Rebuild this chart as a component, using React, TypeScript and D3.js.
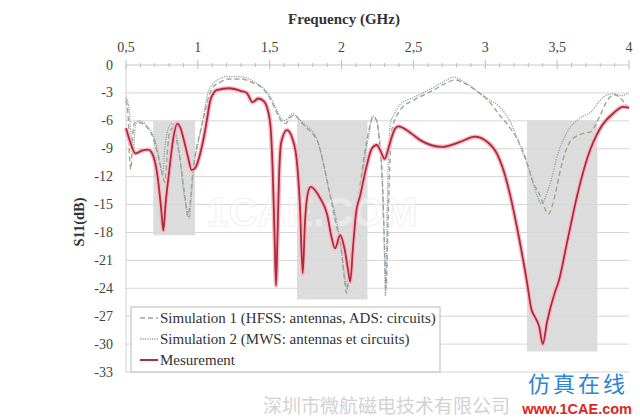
import React from "react";
import * as d3 from "d3";

const xTicks = [0.5, 1, 1.5, 2, 2.5, 3, 3.5, 4];
const xTickLabels = ["0,5", "1", "1,5", "2", "2,5", "3", "3,5", "4"];
const yTicks = [0, -3, -6, -9, -12, -15, -18, -21, -24, -27, -30, -33];

const bandStart = [0.69, 1.69, 3.29];
const bandEnd = [0.98, 2.18, 3.78];
const bandLow = [-18.3, -25.2, -30.8];
const bandHigh = [-6, -6, -6];

const measFreq = [0.5, 0.53, 0.565, 0.61, 0.655, 0.69, 0.72, 0.745, 0.76, 0.775, 0.8, 0.83, 0.857, 0.88, 0.9, 0.93, 0.957, 0.985, 1.0, 1.04, 1.06, 1.085, 1.11, 1.13, 1.22, 1.3, 1.34, 1.38, 1.42, 1.46, 1.48, 1.505, 1.52, 1.535, 1.544, 1.553, 1.565, 1.58, 1.62, 1.66, 1.69, 1.71, 1.73, 1.745, 1.765, 1.785, 1.85, 1.9, 1.93, 1.955, 1.99, 2.02, 2.045, 2.06, 2.08, 2.1, 2.13, 2.175, 2.21, 2.245, 2.27, 2.3, 2.32, 2.34, 2.37, 2.395, 2.48, 2.55, 2.7, 2.82, 2.93, 3.0, 3.08, 3.12, 3.17, 3.24, 3.29, 3.32, 3.35, 3.375, 3.4, 3.43, 3.485, 3.51, 3.57, 3.64, 3.71, 3.8, 3.89, 3.96, 4.0];
const measS11 = [-6.8, -8.3, -9.5, -9.2, -9.1, -9.8, -12, -15.5, -17.8, -15, -11.5, -7.8, -6.3, -6.8, -7.9, -9.8, -11.3, -11, -10.4, -7.9, -6.2, -3.9, -3.0, -2.7, -2.5, -2.8, -3.0, -4.0, -3.6, -3.9, -4.5, -6.5, -11, -19, -23.7, -19, -12, -8.3, -7.0, -8.0, -10.5, -15, -22.4, -17, -13.8, -13.1, -14.3, -16.1, -18.5, -19.7, -18.3, -19.7, -22, -23.3, -19.5, -16, -14, -10.8, -9.0, -8.6, -9.2, -10.1, -9.3, -8.2, -6.9, -6.6, -7.3, -8.1, -8.8, -8.3, -7.7, -8.1, -9.5, -11, -13.8, -19.0, -23.3, -26.2, -27.2, -28.1, -30.0, -27.6, -24.4, -23.3, -19.0, -14.0, -10.0, -6.8, -5.2, -4.5, -4.6];

const sim1Freq = [0.5, 0.515, 0.525, 0.535, 0.545, 0.56, 0.6, 0.64, 0.68, 0.72, 0.75, 0.77, 0.785, 0.8, 0.825, 0.85, 0.88, 0.905, 0.93, 0.945, 0.965, 0.99, 1.02, 1.05, 1.08, 1.11, 1.15, 1.22, 1.3, 1.38, 1.45, 1.5, 1.54, 1.58, 1.61, 1.645, 1.675, 1.71, 1.76, 1.8, 1.84, 1.88, 1.92, 1.96, 2.0, 2.02, 2.035, 2.05, 2.08, 2.12, 2.16, 2.19, 2.22, 2.245, 2.265, 2.285, 2.3, 2.31, 2.32, 2.335, 2.35, 2.38, 2.42, 2.5, 2.64, 2.72, 2.79, 2.86, 2.94, 3.02, 3.1, 3.16, 3.22, 3.28, 3.33, 3.38, 3.44, 3.485, 3.53, 3.59, 3.67, 3.73, 3.8, 3.845, 3.9, 3.96, 4.0];
const sim1S11 = [-3.8, -5.5, -10, -11.2, -8, -6.2, -6.2, -6.6, -7.5, -9.5, -11.5, -12.6, -10, -7.5, -6.8, -8, -10.5, -13.5, -16.2, -15, -11.5, -9, -7, -5, -3.2, -2.3, -1.9, -1.5, -1.5, -1.9, -2.5, -3.5, -4.8, -6.0, -6.3, -5.6, -5.4, -6.0, -6.8, -7.4, -8.5, -11, -14, -17, -20, -23, -24.5, -22.5, -18.5, -14, -9.5, -7, -5.6, -6.0, -8.5, -13, -20, -24.0, -19, -11, -7, -5.6, -4.6, -3.8, -2.7, -2.0, -1.6, -2.0, -2.8, -3.8, -5.4, -6.5, -7.9, -10, -12.5, -14.0, -16.0, -14.0, -10.8, -8.25, -7.4, -7.2, -5.4, -3.9, -3.2, -3.9, -4.7];

const sim2Freq = [0.5, 0.52, 0.535, 0.55, 0.565, 0.59, 0.63, 0.67, 0.7, 0.73, 0.755, 0.77, 0.79, 0.82, 0.85, 0.875, 0.9, 0.925, 0.94, 0.955, 0.975, 1.0, 1.027, 1.05, 1.07, 1.1, 1.13, 1.2, 1.3, 1.38, 1.44, 1.48, 1.52, 1.55, 1.6, 1.635, 1.66, 1.69, 1.73, 1.76, 1.8, 1.83, 1.86, 1.91, 1.955, 1.99, 2.02, 2.04, 2.06, 2.09, 2.13, 2.16, 2.19, 2.215, 2.24, 2.26, 2.28, 2.295, 2.305, 2.315, 2.325, 2.34, 2.37, 2.41, 2.5, 2.64, 2.72, 2.78, 2.85, 2.92, 3.0, 3.1, 3.17, 3.24, 3.31, 3.36, 3.39, 3.44, 3.51, 3.57, 3.66, 3.74, 3.8, 3.85, 3.9, 3.94, 4.0];
const sim2S11 = [-3.5, -4.5, -7.5, -9.5, -6.5, -6.0, -6.3, -7.0, -8.0, -10, -11.8, -9, -7.0, -6.3, -7.5, -10, -13.5, -15.5, -16.5, -14, -10.5, -8.5, -6.5, -4.5, -3.0, -2.1, -1.7, -1.25, -1.25, -1.7, -2.3, -2.9, -3.9, -4.9, -6.0, -5.6, -5.2, -5.6, -6.2, -6.6, -7.2, -8, -9.7, -13.3, -16, -19, -22.5, -24, -21, -17.5, -13.5, -10, -7.5, -5.5, -5.8, -7.5, -11, -18, -24.8, -18, -10.5, -6.3, -5.2, -4.2, -3.5, -2.4, -1.7, -1.3, -1.8, -2.5, -3.5, -4.5, -6, -8.6, -11.5, -14.0, -14.9, -13.3, -9.3, -7.2, -5.7, -5.0, -3.8, -3.2, -3.1, -3.3, -3.0];

const legendLabels = [
  "Simulation 1 (HFSS: antennas, ADS: circuits)",
  "Simulation 2 (MWS: antennas et circuits)",
  "Mesurement",
];

const W = 640;
const H = 418;
const serif = "Liberation Serif, Times New Roman, DejaVu Serif, serif";
const serifStyle = { fontFamily: serif };

export default function App() {
  const x = d3.scaleLinear().domain([0.5, 4]).range([126, 629]);
  const y = d3.scaleLinear().domain([0, -33]).range([65, 372]);

  const line = (fs: number[], vs: number[]) =>
    d3
      .line<number>()
      .x((_, i) => x(fs[i]))
      .y((v) => y(v))
      .curve(d3.curveMonotoneX)(vs) || "";

  const minorTicks = d3.range(5, 41).map((v) => v / 10);

  const simColor1 = "#9ea690";
  const simColor2 = "#939ea8";
  const redColor = "#b02a3a";

  return (
    <svg
      width={W}
      height={H}
      style={{ position: "absolute", left: 0, top: 0, background: "#fff", fontFamily: serif }}
    >
      <rect x={0} y={0} width={W} height={H} fill="#fff" />
      {yTicks.slice(1).map((t) => (
        <line key={"g" + t} x1={126} x2={629} y1={y(t)} y2={y(t)} stroke="#d6d6d6" strokeWidth={1} />
      ))}
      {bandStart.map((s, i) => (
        <rect
          key={"b" + i}
          x={x(s)}
          width={x(bandEnd[i]) - x(s)}
          y={y(bandHigh[i])}
          height={y(bandLow[i]) - y(bandHigh[i])}
          fill="#d8d8d8"
          opacity={0.9}
        />
      ))}
      <text x={312} y={226} fontSize={40} style={{ fontFamily: "Liberation Sans, Arial, sans-serif" }} fontWeight="bold" fill="#ffffff" fillOpacity={0.35} stroke="#e8e8e8" strokeWidth={0.6} textAnchor="middle">
        1CAE.COM
      </text>
      <line x1={126} x2={126} y1={65} y2={372} stroke="#cfcfcf" />
      <line x1={126} x2={629} y1={65} y2={65} stroke="#c8c8c8" />
      {minorTicks.map((t) => {
        const major = Math.abs(t * 2 - Math.round(t * 2)) < 1e-6;
        return (
          <line
            key={"mt" + t}
            x1={x(t)}
            x2={x(t)}
            y1={major ? 60 : 63}
            y2={major ? 69 : 67}
            stroke="#bdbdbd"
            strokeWidth={1}
          />
        );
      })}
      {xTicks.map((t, i) => (
        <text key={"xt" + t} x={x(t)} y={52} fontSize={14} fill="#444" textAnchor="middle" style={serifStyle}>
          {xTickLabels[i]}
        </text>
      ))}
      {yTicks.map((t) => (
        <text key={"yt" + t} x={113} y={y(t) + 4.5} fontSize={14} fill="#444" textAnchor="end" style={serifStyle}>
          {t}
        </text>
      ))}
      <text x={344} y={24} fontSize={15} fontWeight="bold" fill="#333" textAnchor="middle" style={serifStyle}>
        Frequency (GHz)
      </text>
      <text
        transform={`translate(84,${222}) rotate(-90)`}
        fontSize={14.5}
        fontWeight="bold"
        fill="#333"
        textAnchor="middle"
        style={serifStyle}
      >
        S11(dB)
      </text>
      <path d={line(sim1Freq, sim1S11)} fill="none" stroke={simColor1} strokeWidth={1.4} strokeDasharray="5,3" />
      <path d={line(sim2Freq, sim2S11)} fill="none" stroke={simColor2} strokeWidth={1.3} strokeDasharray="1.2,1.2" />
      <path d={line(measFreq, measS11)} fill="none" stroke="#f4bcc5" strokeWidth={4.5} strokeLinejoin="round" />
      <path d={line(measFreq, measS11)} fill="none" stroke={redColor} strokeWidth={1.8} strokeLinejoin="round" />
      <rect x={131} y={307} width={309} height={65} fill="#fff" stroke="#b8b8b8" strokeWidth={1} />
      {legendLabels.map((lab, i) => {
        const ly = 318 + i * 21;
        return (
          <g key={"lg" + i}>
            <line
              x1={140}
              x2={158}
              y1={ly}
              y2={ly}
              stroke={i === 0 ? simColor1 : i === 1 ? simColor2 : redColor}
              strokeWidth={i === 2 ? 2 : 1.4}
              strokeDasharray={i === 0 ? "5,3" : i === 1 ? "1.2,1.2" : undefined}
            />
            <text x={160} y={ly + 4.5} fontSize={15} fill="#333" style={serifStyle}>
              {lab}
            </text>
          </g>
        );
      })}
      <text x={528} y={392} fontSize={22} fill="#2b86d6" style={{ fontFamily: "Noto Sans CJK SC, sans-serif" }} letterSpacing={3}>
        仿真在线
      </text>
      <text x={263} y={413} fontSize={19} fill="#d2d2d2" style={{ fontFamily: "Noto Sans CJK SC, sans-serif" }}>
        深圳市微航磁电技术有限公司
      </text>
      <text x={632} y={414} fontSize={14.5} fontWeight="bold" fill="#e0261c" textAnchor="end" style={{ fontFamily: "Liberation Sans, Arial, sans-serif" }}>
        www.1CAE.com
      </text>
    </svg>
  );
}
